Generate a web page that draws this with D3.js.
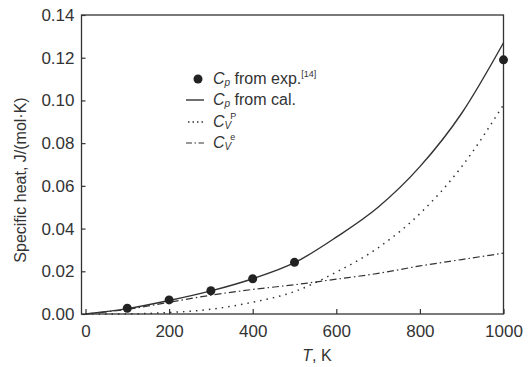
<!DOCTYPE html>
<html>
<head>
<meta charset="utf-8">
<script src="https://cdn.jsdelivr.net/npm/d3@7"></script>
<style>
  body { margin: 0; background: #fff; }
  svg text { font-family: "Liberation Sans", Arial, sans-serif; fill: #333; }
</style>
</head>
<body>
<svg id="chart" width="531" height="367"></svg>
<script>
// Temperatures (K) for the curves
var temps = [0, 100, 200, 300, 400, 500, 600, 700, 800, 900, 1000];
// Cp from calculation (solid)
var cpCal = [0, 0.0025, 0.0063, 0.0108, 0.0165, 0.024, 0.036, 0.050, 0.069, 0.094, 0.127];
// Cv^p (dotted)
var cvP = [0, 0.00005, 0.0007, 0.0022, 0.0055, 0.0105, 0.0196, 0.031, 0.047, 0.069, 0.098];
// Cv^e (dash-dot)
var cvE = [0, 0.0022, 0.0055, 0.0088, 0.0115, 0.0137, 0.0163, 0.019, 0.0225, 0.0255, 0.0285];
// Cp from experiment [14] (dots)
var expT = [100, 200, 300, 400, 500, 1000];
var expCp = [0.0027, 0.0066, 0.0109, 0.0165, 0.0242, 0.119];

var xTicks = [0, 200, 400, 600, 800, 1000];
var yTicks = [0, 0.02, 0.04, 0.06, 0.08, 0.10, 0.12, 0.14];

var ink = '#333';
var svg = d3.select('#chart');

var x = d3.scaleLinear().domain([0, 1000]).range([85.5, 503.5]);
var y = d3.scaleLinear().domain([0, 0.14]).range([314, 15]);
var frameLeft = 81.5;

// Frame
svg.append('rect')
  .attr('x', frameLeft).attr('y', y(0.14))
  .attr('width', x(1000) - frameLeft).attr('height', y(0) - y(0.14))
  .attr('fill', 'none').attr('stroke', ink).attr('stroke-width', 1.3);

// X axis (ticks pointing inward)
var xAxis = svg.append('g')
  .attr('transform', 'translate(0,' + y(0) + ')')
  .call(d3.axisBottom(x).tickValues(xTicks).tickSize(-5).tickPadding(11)
        .tickFormat(d3.format('d')));
xAxis.select('.domain').remove();
xAxis.selectAll('line').attr('stroke', ink).attr('stroke-width', 1.2);
xAxis.selectAll('text').attr('font-size', 17).attr('fill', ink);

// Y axis (ticks pointing inward)
var yAxis = svg.append('g')
  .attr('transform', 'translate(' + frameLeft + ',0)')
  .call(d3.axisLeft(y).tickValues(yTicks).tickSize(-4).tickPadding(7)
        .tickFormat(d3.format('.2f')));
yAxis.select('.domain').remove();
yAxis.selectAll('line').attr('stroke', ink).attr('stroke-width', 1.2);
yAxis.selectAll('text').attr('font-size', 17).attr('fill', ink);

// Axis titles
svg.append('text')
  .attr('transform', 'translate(26,180) rotate(-90)')
  .attr('text-anchor', 'middle')
  .attr('font-size', 16)
  .text('Specific heat,  J/(mol\u00b7K)');

var xt = svg.append('text')
  .attr('x', 317).attr('y', 361)
  .attr('text-anchor', 'middle')
  .attr('font-size', 16);
xt.append('tspan').attr('font-style', 'italic').text('T');
xt.append('tspan').text(', K');

// Curves
var line = d3.line()
  .x(function(d) { return x(d[0]); })
  .y(function(d) { return y(d[1]); })
  .curve(d3.curveMonotoneX);

function pairs(vals) {
  return temps.map(function(t, i) { return [t, vals[i]]; });
}

svg.append('path').datum(pairs(cvE))
  .attr('d', line).attr('fill', 'none')
  .attr('stroke', ink).attr('stroke-width', 1.2)
  .attr('stroke-dasharray', '7,3,1.5,3');

svg.append('path').datum(pairs(cvP))
  .attr('d', line).attr('fill', 'none')
  .attr('stroke', ink).attr('stroke-width', 1.5)
  .attr('stroke-dasharray', '1.5,5');

svg.append('path').datum(pairs(cpCal))
  .attr('d', line).attr('fill', 'none')
  .attr('stroke', ink).attr('stroke-width', 1.4);

// Experimental points
svg.selectAll('.exp')
  .data(expT.map(function(t, i) { return [t, expCp[i]]; }))
  .enter().append('circle')
    .attr('class', 'exp')
    .attr('cx', function(d) { return x(d[0]); })
    .attr('cy', function(d) { return y(d[1]); })
    .attr('r', 4.5)
    .attr('fill', '#222');

// Legend
var legend = svg.append('g');
var rows = [79, 100, 122, 143];

legend.append('circle').attr('cx', 198).attr('cy', rows[0]).attr('r', 4.5).attr('fill', '#222');
legend.append('line').attr('x1', 186).attr('x2', 204).attr('y1', rows[1]).attr('y2', rows[1])
  .attr('stroke', ink).attr('stroke-width', 1.4);
legend.append('line').attr('x1', 188).attr('x2', 204).attr('y1', rows[2]).attr('y2', rows[2])
  .attr('stroke', ink).attr('stroke-width', 1.5).attr('stroke-dasharray', '1.5,3');
legend.append('line').attr('x1', 186).attr('x2', 204).attr('y1', rows[3]).attr('y2', rows[3])
  .attr('stroke', ink).attr('stroke-width', 1.2).attr('stroke-dasharray', '6,2.5,1.5,2.5');

function cpLabel(yy, rest, sup) {
  var t = legend.append('text').attr('x', 213).attr('y', yy + 5).attr('font-size', 16);
  t.append('tspan').attr('font-style', 'italic').text('C');
  t.append('tspan').attr('font-style', 'italic').attr('font-size', 10).attr('dy', 2).text('p');
  t.append('tspan').attr('dy', -2).text(' ' + rest);
  if (sup) {
    t.append('tspan').attr('font-size', 9).attr('dy', -7).text(sup);
  }
}
cpLabel(rows[0], 'from exp.', '[14]');
cpLabel(rows[1], 'from cal.', null);

function cvLabel(yy, sup) {
  var t = legend.append('text').attr('x', 213).attr('y', yy + 5).attr('font-size', 16);
  t.append('tspan').attr('font-style', 'italic').text('C');
  t.append('tspan').attr('font-style', 'italic').attr('font-size', 10).attr('dy', 2).text('V');
  t.append('tspan').attr('font-size', 9).attr('dy', -10).attr('dx', -1).text(sup);
}
cvLabel(rows[2], 'P');
cvLabel(rows[3], 'e');
</script>
</body>
</html>
